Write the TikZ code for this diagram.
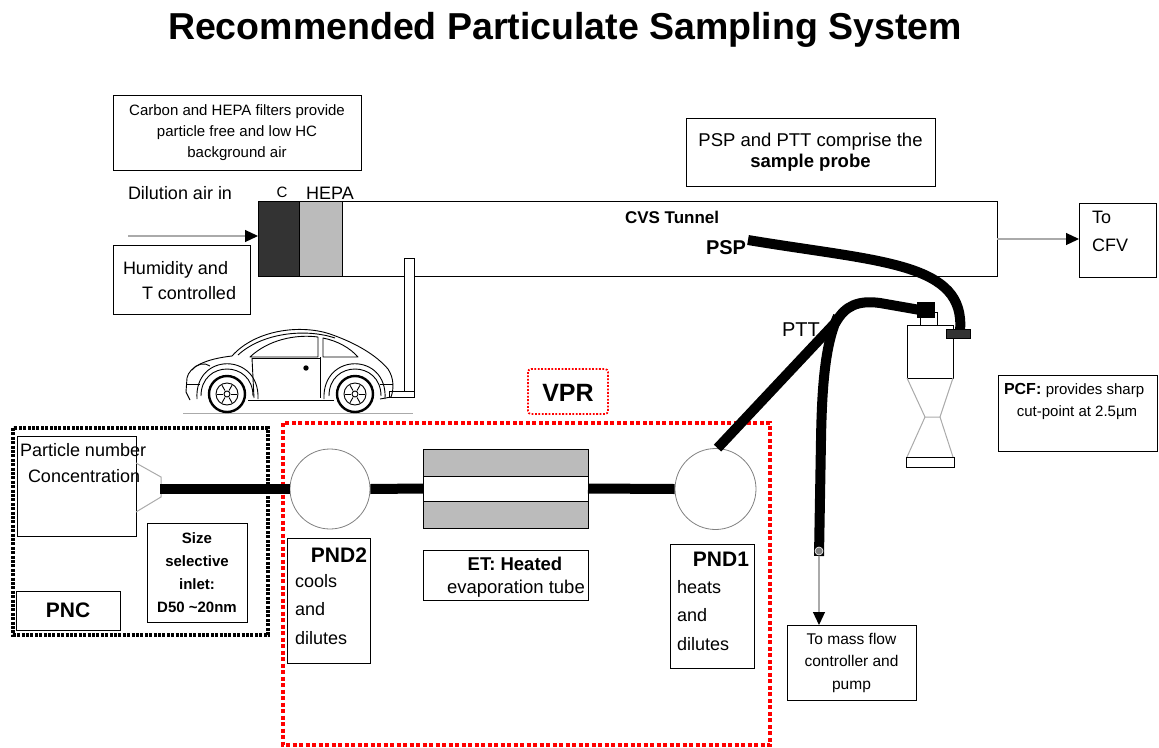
\documentclass[tikz,border=0pt]{standalone}
\usepackage{fontspec}
\setmainfont{Liberation Sans}
\usetikzlibrary{arrows.meta,calc}
\newcommand{\fsz}[1]{\fontsize{#1}{#1}\selectfont}
\definecolor{filterdark}{HTML}{333333}
\definecolor{filterlight}{HTML}{BBBBBB}
\definecolor{linegray}{HTML}{AAAAAA}
\begin{document}
\begin{tikzpicture}[x=1pt,y=-1pt,
  box/.style={draw, line width=0.9pt, inner sep=0pt, outer sep=0pt},
  txt/.style={inner sep=0pt, outer sep=0pt},
  hose/.style={line width=10pt, line cap=butt},
  flowarrow/.style={draw=linegray, line width=1.2pt, -{Triangle[length=13pt,width=12pt,color=black]}},
  pncframe/.style={draw, line width=3.2pt, dash pattern=on 3pt off 1.4pt},
  vprframe/.style={draw=red, line width=3.8pt, dash pattern=on 4pt off 2.5pt},
  vprlabel/.style={draw=red, line width=1.8pt, dash pattern=on 1.8pt off 1.6pt, rounded corners=3pt},
  chamber/.style={draw=gray, line width=0.8pt},
  carline/.style={line width=0.9pt, line join=round},
]
\useasboundingbox (0,0) rectangle (1159,747);

% ---------- title ----------
\node[txt, font=\fsz{37.5}\bfseries] (title) at (565,30) {Recommended Particulate Sampling System};

% ---------- dilution air side ----------
\node[box, minimum width=248, minimum height=75] (filtnote) at (237,132.5) {};
\node[txt, font=\fsz{15}, align=center] (filttext) at (filtnote.center)
  {Carbon and HEPA filters provide\\[6pt]particle free and low HC\\[6pt]background air};

\node[txt, font=\fsz{18}, anchor=west] (dilair) at (128,193) {Dilution air in};
\coordinate (airin) at (128,236);

\node[box, minimum width=137, minimum height=69] (humid) at (181.5,279.5) {};
\node[txt, font=\fsz{18}, anchor=west] (humid1) at (123,270) {Humidity and};
\node[txt, font=\fsz{18}, anchor=west] (humid2) at (142,293) {T controlled};

% ---------- CVS tunnel with filters ----------
\node[box, minimum width=739, minimum height=75] (tunnel) at (627.5,239) {};
\node[box, fill=filterdark, minimum width=41, minimum height=75] (cfilter) at (278.5,239) {};
\node[box, fill=filterlight, minimum width=43, minimum height=75] (hepa) at (320.5,239) {};
\node[txt, font=\fsz{15}] (clabel) at (282,192) {C};
\node[txt, font=\fsz{18}] (hepalabel) at (330,193) {HEPA};
\draw[flowarrow] (airin) -- (cfilter.west |- airin);

\node[txt, font=\fsz{17}\bfseries, anchor=west] (cvs) at (625,217) {CVS Tunnel};
\node[txt, font=\fsz{20}\bfseries, anchor=west] (psplabel) at (706,248) {PSP};

\node[box, minimum width=77, minimum height=74] (cfv) at (1117.5,240) {};
\node[txt, font=\fsz{18}, anchor=west] (cfv1) at (1092,217) {To};
\node[txt, font=\fsz{18}, anchor=west] (cfv2) at (1092,245) {CFV};
\draw[flowarrow] (tunnel.east |- 0,239) -- (cfv.west |- 0,239);

\node[box, minimum width=249, minimum height=68] (probenote) at (810.5,152) {};
\node[txt, font=\fsz{18.5}, align=center] (probetext) at (probenote.center)
  {PSP and PTT comprise the\\[3pt]\textbf{sample probe}};

% ---------- exhaust pipe ----------
\draw[line width=0.9pt, fill=white] (404,258) rectangle (414,397);
\draw[line width=0.9pt, fill=white] (389,391) rectangle (414,397);

% ---------- vehicle ----------
\draw[linegray, line width=1pt] (183,413) -- (413,413);
\begin{scope}[carline]
  % body outline
  \draw (190,400) -- (186,392) -- (187,378)
        .. controls (189,367) and (205,359) .. (232,356)
        .. controls (255,330) and (300,324) .. (330,334)
        .. controls (356,343) and (376,355) .. (388,369)
        .. controls (394,378) and (394,389) .. (391,397) -- (380,399);
  \draw (248,400) -- (334,400);
  % fender arches
  \draw (201,396) .. controls (201,360) and (253,360) .. (253,396);
  \draw (329,396) .. controls (329,360) and (381,360) .. (381,396);
  \draw (197,399) .. controls (194,352) and (260,352) .. (258,399);
  \draw (324,399) .. controls (322,352) and (388,352) .. (385,399);
  % windows
  \draw (250,357) .. controls (268,340) and (295,334) .. (318,337) -- (318,357) -- cycle;
  \draw (323,338) .. controls (338,341) and (350,348) .. (358,357) -- (323,357) -- cycle;
  % roof line
  \draw (238,355) .. controls (262,333) and (305,328) .. (335,338);
  % door
  \draw (252,358) -- (254,398);
  \draw (320,357) -- (320,398);
  \draw (252,358) -- (320,358);
  \filldraw (306,368) circle[radius=2.2];
  % lights and bumpers
  \draw (192,370) .. controls (196,364) and (205,362) .. (210,366);
  \draw (186,384) -- (200,384);
  \draw (380,384) -- (393,384);
  % wheels
  \foreach \wx/\wn in {227/fwheel, 355/rwheel}{
    \draw[line width=2.4pt, fill=white] (\wx,394) circle[radius=18];
    \draw (\wx,394) circle[radius=11];
    \draw (\wx,394) circle[radius=3];
    \foreach \a in {0,60,...,300}
      \draw ($(\wx,394)+(\a:4)$) -- ($(\wx,394)+(\a:10)$);
  }
\end{scope}

% ---------- PNC ----------
\draw[pncframe] (13,428) rectangle (268,635);
\node[box, minimum width=119, minimum height=100] (pncbody) at (76.5,486) {};
\node[txt, font=\fsz{18}, anchor=west] (pnc1) at (20,450) {Particle number};
\node[txt, font=\fsz{18}, anchor=west] (pnc2) at (28,476) {Concentration};
\draw[linegray, line width=1pt] (pncbody.east |- 0,463) -- (161,477) -- (161,497) -- (pncbody.east |- 0,512);
\coordinate (inlet) at (160,489);
\node[box, minimum width=100, minimum height=99] (sizebox) at (197,572.5) {};
\node[txt, font=\fsz{15}\bfseries, align=center] (sizetext) at (sizebox.center)
  {Size\\[8pt]selective\\[8pt]inlet:\\[8pt]D50 \textasciitilde20nm};
\node[box, minimum width=104, minimum height=39] (pncname) at (68,610.5) {};
\node[txt, font=\fsz{21}\bfseries] (pnctext) at (pncname.center) {PNC};

% ---------- VPR ----------
\draw[vprlabel] (528,369) rectangle (608,414);
\node[txt, font=\fsz{25}\bfseries] (vprtext) at (568,393) {VPR};
\draw[vprframe] (283,423) rectangle (770,745);

\node[circle, chamber, minimum size=80, inner sep=0pt] (pnd2) at (330,489) {};
\node[circle, chamber, minimum size=81, inner sep=0pt] (pnd1) at (715.5,489) {};

% evaporation tube
\node[box, minimum width=165, minimum height=79] (et) at (505.5,488.5) {};
\draw[line width=0.9pt, fill=filterlight] (423,449) rectangle (588,476);
\draw[line width=0.9pt, fill=filterlight] (423,501) rectangle (588,528);

% flow line through the VPR into the PNC
\draw[hose] (inlet) -- (pnd2.west);
\draw[hose] (pnd2.east) -- (et.west);
\draw[hose] (et.east) -- (pnd1.west);

\node[box, minimum width=83, minimum height=125] (pnd2box) at (328.5,600.5) {};
\node[txt, font=\fsz{21}\bfseries, anchor=east] (pnd2name) at (367,555) {PND2};
\node[txt, font=\fsz{18}, anchor=west] (pnd2a) at (295,581) {cools};
\node[txt, font=\fsz{18}, anchor=west] (pnd2b) at (295,609) {and};
\node[txt, font=\fsz{18}, anchor=west] (pnd2c) at (295,638) {dilutes};

\node[box, minimum width=165, minimum height=50] (etbox) at (505.5,575) {};
\node[txt, font=\fsz{18.5}\bfseries] (etname) at (515,564) {ET: Heated};
\node[txt, font=\fsz{18.5}, anchor=west] (etdesc) at (447,589) {evaporation tube};

\node[box, minimum width=84, minimum height=124] (pnd1box) at (712,606) {};
\node[txt, font=\fsz{21}\bfseries, anchor=east] (pnd1name) at (749,559) {PND1};
\node[txt, font=\fsz{18}, anchor=west] (pnd1a) at (677,587) {heats};
\node[txt, font=\fsz{18}, anchor=west] (pnd1b) at (677,615) {and};
\node[txt, font=\fsz{18}, anchor=west] (pnd1c) at (677,644) {dilutes};

% ---------- transfer tubes ----------
\coordinate (pttbend) at (836,322);
\coordinate (pspstart) at (748,240);
\coordinate (tubeend) at (819,556);
\draw[hose] (pnd1.north) ++(2,0) -- (pttbend)
  .. controls (845,306) and (858,300) .. (880,303) -- (920,310);
\draw[hose] (838,316) .. controls (826,342) and (822,380) .. (821,440) -- (tubeend);
\draw[hose] (pspstart) .. controls (880,262) and (966,262) .. (960,331);
\node[txt, font=\fsz{20}, anchor=west] (pttlabel) at (782,330) {PTT};
\filldraw[fill=gray, draw=white, line width=0.6pt] (819,551) circle[radius=4];

% ---------- cyclone (PCF) ----------
\draw[line width=0.9pt, fill=white] (920,312) rectangle (937,325);
\fill (917,302) rectangle (935,318);
\node[box, fill=white, minimum width=46, minimum height=53] (cyclone) at (930,351.5) {};
\draw[line width=0.9pt, fill=filterdark] (946,329) rectangle (970,338);
\draw[linegray, line width=1pt] (907,378) -- (925,417) -- (940,417) -- (953,378);
\draw[linegray, line width=1pt] (925,417) -- (907,457) (940,417) -- (953,457);
\draw[line width=0.9pt] (906,457) rectangle (954,467);

\node[box, minimum width=159, minimum height=76] (pcfbox) at (1077.5,413) {};
\node[txt, anchor=west] (pcf1) at (1004,390) {\fsz{16}\textbf{PCF:} \fsz{15}provides sharp};
\node[txt, font=\fsz{15}] (pcf2) at (1077,413) {cut-point at 2.5µm};

% ---------- pump ----------
\node[box, minimum width=129, minimum height=75] (pump) at (851.5,662.5) {};
\node[txt, font=\fsz{15.5}, align=center] (pumptext) at (pump.center)
  {To mass flow\\[7pt]controller and\\[7pt]pump};
\draw[flowarrow] (tubeend) -- (pump.north -| tubeend);
\end{tikzpicture}
\end{document}
